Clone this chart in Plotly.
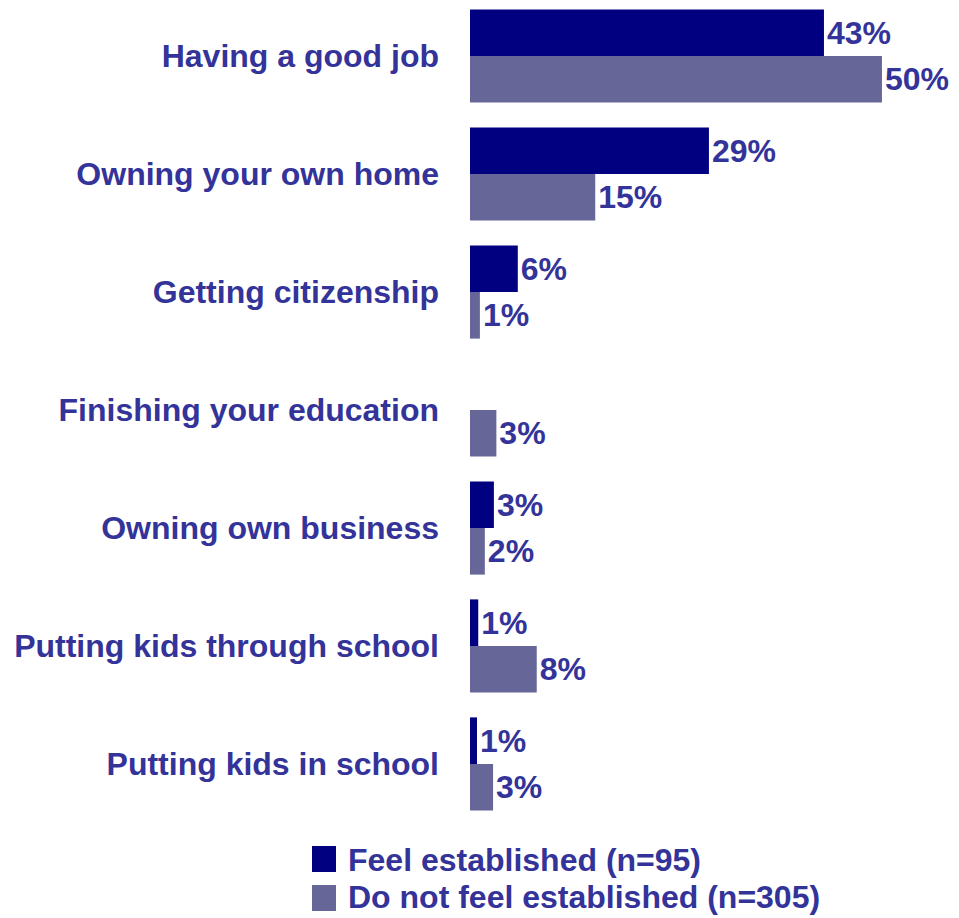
import plotly.graph_objects as go

categories = [
    "Having a good job",
    "Owning your own home",
    "Getting citizenship",
    "Finishing your education",
    "Owning own business",
    "Putting kids through school",
    "Putting kids in school",
]
feel_established = [42.96, 29.0, 5.8, None, 2.9, 1.0, 0.85]
not_established = [50.0, 15.2, 1.2, 3.2, 1.8, 8.1, 2.8]
series_names = ["Feel established (n=95)", "Do not feel established (n=305)"]
series_colors = ["#000080", "#666699"]

FONT = "Liberation Sans, Arial, sans-serif"
TEXT_COLOR = "#333399"
FS = 32

fig = go.Figure()
for name, vals, color in zip(series_names, [feel_established, not_established], series_colors):
    fig.add_trace(go.Bar(
        y=categories, x=vals, name=name, orientation="h",
        marker=dict(color=color, line=dict(width=0)),
        texttemplate="%{x:.0f}%", textposition="outside", constraintext="none",
        textfont=dict(family=FONT, size=FS, color=TEXT_COLOR, weight="bold"),
        cliponaxis=False, showlegend=False,
    ))

# legend drawn as swatches + text below the plot
shapes = []
annotations = []
for i, (name, color) in enumerate(zip(series_names, series_colors)):
    top = -23 - 39 * i
    shapes.append(dict(
        type="rect", xref="paper", xsizemode="pixel", xanchor=0, x0=-158, x1=-134,
        yref="paper", ysizemode="pixel", yanchor=0, y0=top - 26, y1=top,
        fillcolor=color, line=dict(width=0), layer="above",
    ))
    annotations.append(dict(
        text=name, xref="paper", yref="paper",
        x=-0.2535, y=-0.0454 - 0.0454 * i, xanchor="left", yanchor="middle",
        showarrow=False,
        font=dict(family=FONT, size=FS, color=TEXT_COLOR, weight="bold"),
    ))

fig.update_layout(
    width=951, height=910,
    margin=dict(l=462, r=0, t=0, b=95),
    barmode="group", bargap=0.21, bargroupgap=0,
    plot_bgcolor="white", paper_bgcolor="white",
    font=dict(family=FONT, color=TEXT_COLOR, weight="bold"),
    xaxis=dict(range=[0, 59.35], visible=False, showgrid=False, zeroline=False),
    yaxis=dict(range=[6.5, -0.4068], showgrid=False, zeroline=False, showline=False,
               ticks="", ticklabelstandoff=30, automargin=False,
               tickfont=dict(family=FONT, size=FS, color=TEXT_COLOR, weight="bold")),
    showlegend=False,
    shapes=shapes,
    annotations=annotations,
)

fig.write_html("out.html")
